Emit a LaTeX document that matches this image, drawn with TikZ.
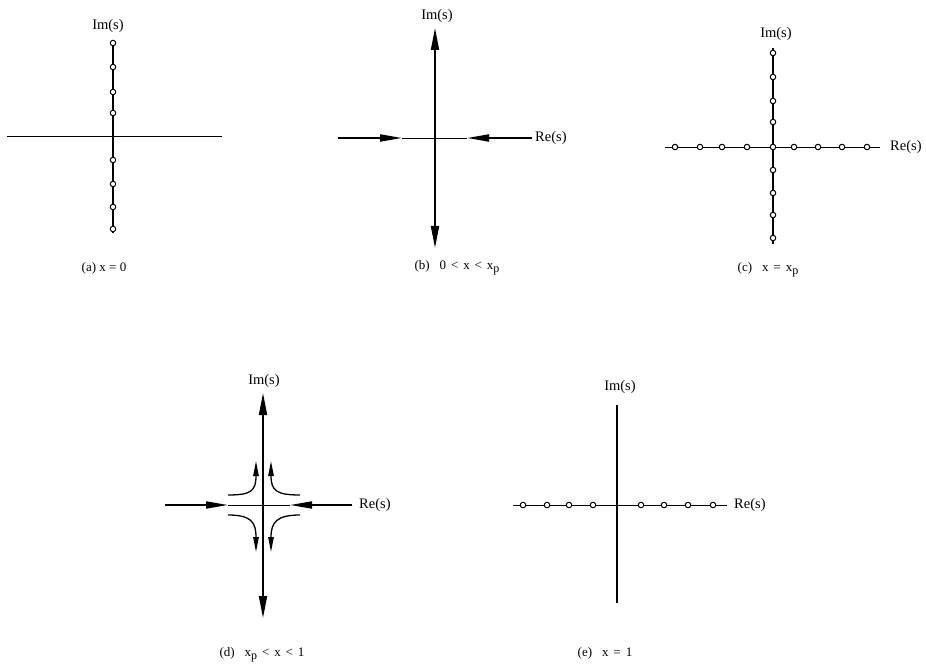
\documentclass[tikz,border=0pt]{standalone}
\usepackage{fontspec}
\setmainfont{Liberation Serif}
\usetikzlibrary{arrows.meta}
\newcommand{\subp}{\raisebox{-0.55ex}{\fontsize{12}{12}\selectfont p}}
\newcommand{\gp}{\hspace{0.38em}}
\begin{document}
\begin{tikzpicture}[x=1pt,y=-1pt,
  thinax/.style={line width=0.8pt},
  midax/.style={line width=1.3pt},
  thickax/.style={line width=1.8pt},
  curv/.style={line width=1.3pt,-{Triangle[length=15pt,width=5.5pt]}},
  pole/.style={circle,draw,fill=white,line width=1pt,inner sep=0pt,minimum size=5.5pt},
  lbl/.style={font=\fontsize{14.5}{16}\selectfont,inner sep=1pt},
  captext/.style={font=\fontsize{13}{15}\selectfont,inner sep=1pt},
  vtip/.style={-{Triangle[length=22pt,width=8pt]}},
  htip/.style={-{Triangle[length=22pt,width=7pt]}},
]
\useasboundingbox (0,0) rectangle (926,668);

% ---------------- (a) ----------------
\coordinate (aL) at (7,136);  \coordinate (aR) at (222,136);
\coordinate (aT) at (113,40); \coordinate (aB) at (113,233);
\draw[thinax] (aL) -- (aR);
\draw[midax] (aT) -- (aB);
\foreach \i/\d in {1/-93,2/-69,3/-44,4/-23,5/24,6/48,7/71,8/93}
  \node[pole] (ap\i) at (113,136+\d) {};
\node[lbl] (aIm) at (108,26) {Im(s)};
\node[captext] (acap) at (104,268) {(a) x = 0};

% ---------------- (b) ----------------
\coordinate (bO) at (435,138);
\coordinate (bL) at (338,138); \coordinate (bLt) at (402,138);
\coordinate (bR) at (532,138); \coordinate (bRt) at (467,138);
\coordinate (bT) at (435,28);  \coordinate (bB) at (435,248);
\draw[thinax] (bLt) -- (bRt);
\draw[thickax,htip] (bL) -- (bLt);
\draw[thickax,htip] (bR) -- (bRt);
\draw[thickax,vtip] (bO) -- (bT);
\draw[thickax,vtip] (bO) -- (bB);
\node[lbl] (bIm) at (437,16) {Im(s)};
\node[lbl,anchor=west] (bRe) at (534,138) {Re(s)};
\node[captext] (bcap) at (457,268) {(b)\gp\gp 0\gp<\gp x\gp<\gp x\subp};

% ---------------- (c) ----------------
\coordinate (cL) at (665,147); \coordinate (cR) at (880,147);
\coordinate (cT) at (773,48);  \coordinate (cB) at (773,244);
\draw[thinax] (cL) -- (cR);
\draw[midax] (cT) -- (cB);
\foreach \i/\d in {1/-94,2/-70,3/-46,4/-25,5/0,6/23,7/46,8/68,9/91}
  \node[pole] (cv\i) at (773,147+\d) {};
\foreach \i/\d in {1/-98,2/-73,3/-51,4/-26,6/21,7/45,8/69,9/94}
  \node[pole] (ch\i) at (773+\d,147) {};
\node[lbl] (cIm) at (776,34) {Im(s)};
\node[lbl,anchor=west] (cRe) at (889,147) {Re(s)};
\node[captext] (ccap) at (768,270) {(c)\gp\gp x\gp=\gp x\subp};

% ---------------- (d) ----------------
\coordinate (dO) at (263,505);
\coordinate (dL) at (165,505); \coordinate (dLt) at (228,505);
\coordinate (dR) at (352,505); \coordinate (dRt) at (290,505);
\coordinate (dT) at (263,393); \coordinate (dB) at (263,618);
\draw[thinax] (dLt) -- (dRt);
\draw[thickax,htip] (dL) -- (dLt);
\draw[thickax,htip] (dR) -- (dRt);
\draw[thickax,vtip] (dO) -- (dT);
\draw[thickax,vtip] (dO) -- (dB);
\coordinate (dula) at (228,495); \coordinate (dulb) at (256,461);
\coordinate (dura) at (300,495); \coordinate (durb) at (271,461);
\coordinate (dlla) at (228,515); \coordinate (dllb) at (256,552);
\coordinate (dlra) at (300,515); \coordinate (dlrb) at (271,552);
\draw[curv] (dula) .. controls +(23,0) and +(0,30) .. (dulb);
\draw[curv] (dura) .. controls +(-23,0) and +(0,30) .. (durb);
\draw[curv] (dlla) .. controls +(23,0) and +(0,-30) .. (dllb);
\draw[curv] (dlra) .. controls +(-23,0) and +(0,-30) .. (dlrb);
\node[lbl] (dIm) at (264,381) {Im(s)};
\node[lbl,anchor=west] (dRe) at (358,505) {Re(s)};
\node[captext] (dcap) at (262,655) {(d)\gp\gp x\subp\gp<\gp x\gp<\gp 1};

% ---------------- (e) ----------------
\coordinate (eL) at (513,505); \coordinate (eR) at (727,505);
\coordinate (eT) at (617,405); \coordinate (eB) at (617,603);
\draw[thinax] (eL) -- (eR);
\draw[line width=1.6pt] (eT) -- (eB);
\foreach \i/\d in {1/-94,2/-70,3/-48,4/-24,6/24,7/47,8/71,9/96}
  \node[pole] (eh\i) at (617+\d,505) {};
\node[lbl] (eIm) at (620,387) {Im(s)};
\node[lbl,anchor=west] (eRe) at (733,505) {Re(s)};
\node[captext] (ecap) at (605,653) {(e)\gp\gp x\gp=\gp 1};
\end{tikzpicture}
\end{document}
